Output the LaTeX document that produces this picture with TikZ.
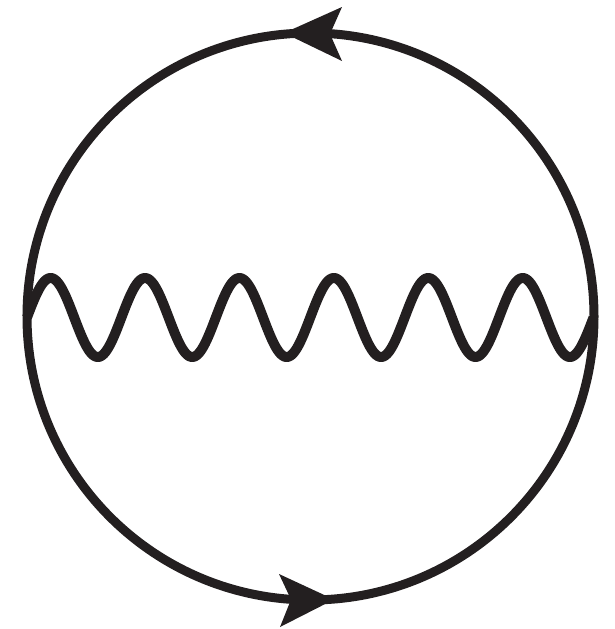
\documentclass[tikz,border=0pt]{standalone}
\definecolor{ink}{HTML}{231F20}
\tikzset{
  loop/.style={draw=ink, line width=9pt},
  wave/.style={draw=ink, line width=10pt, line join=round},
  headfill/.style={fill=ink, draw=none}
}
\begin{document}
\begin{tikzpicture}[x=1pt,y=-1pt]
\useasboundingbox (0,0) rectangle (615,629);
\coordinate (O) at (310.5,316.5);
\coordinate (L) at (27,317.5);
\coordinate (R) at (593.5,317.5);
% fermion loop
\draw[loop] (O) circle[radius=283.5];
% photon line
\draw[wave] plot[domain=27:593.5, samples=500, smooth] (\x, {317.5 - 39.5*sin(3.81288*(\x-27))});
% arrowheads
\coordinate (Ttip) at (284,33);
\coordinate (Bttip) at (334,599.5);
\fill[headfill] (Ttip) -- (342,7) -- (330,34) -- (342,61) -- cycle;
\fill[headfill] (Bttip) -- (279,574) -- (291,599.5) -- (280,627) -- cycle;
\end{tikzpicture}
\end{document}
